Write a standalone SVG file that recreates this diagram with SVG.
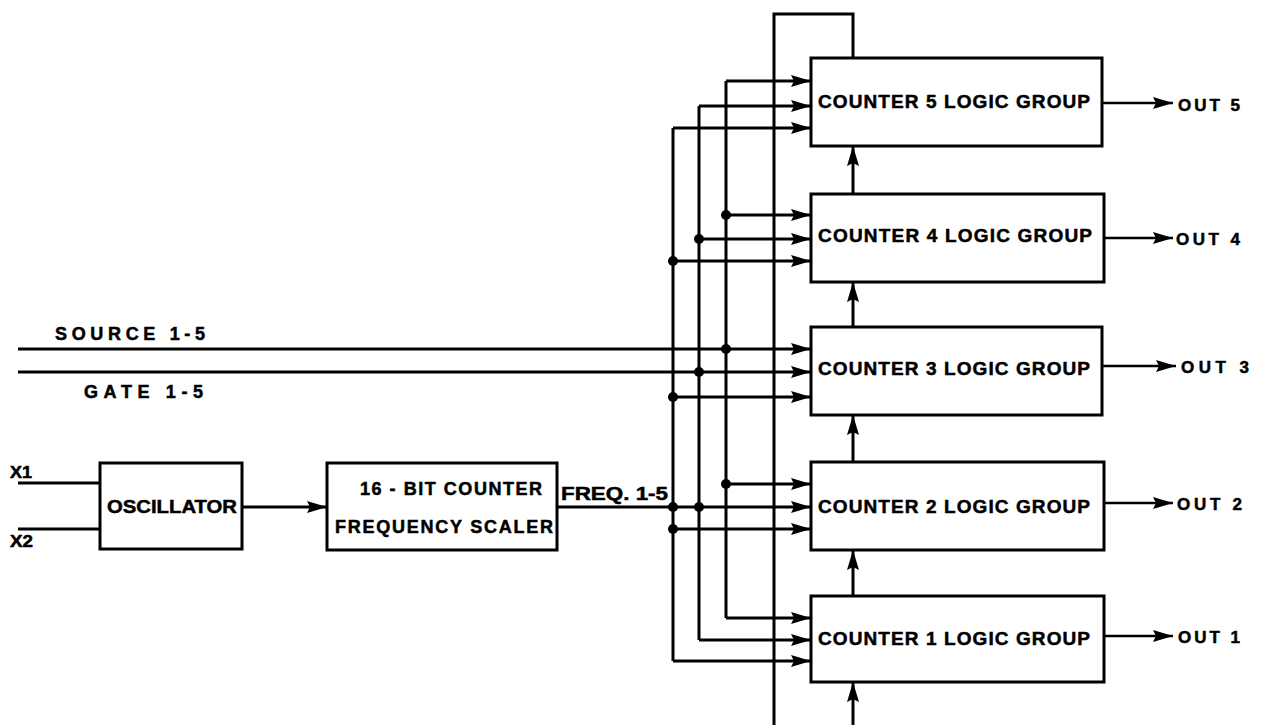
<svg xmlns="http://www.w3.org/2000/svg" width="1266" height="725" viewBox="0 0 1266 725">
<style>
.box{fill:#fff;stroke:#000;stroke-width:3}
.ln{fill:none;stroke:#000;stroke-width:3}
.ln2{fill:none;stroke:#000;stroke-width:2.4}
.t{font-family:"Liberation Sans",Arial,sans-serif;font-weight:bold;fill:#000;stroke:#000;stroke-width:0.5}
.dot{fill:#000}
</style>
<defs>
<marker id="ah" markerUnits="userSpaceOnUse" markerWidth="21" markerHeight="13" refX="20" refY="6.5" orient="auto">
<path d="M0,0.5 L20,6.5 L0,12.5 L3,6.5 z" fill="#000"/>
</marker>
</defs>
<rect width="1266" height="725" fill="#fff"/>
<g id="connectors">
<path class="ln" d="M18,483 H100"/>
<path class="ln" d="M18,529 H100"/>
<path class="ln" d="M242,507 H327" marker-end="url(#ah)"/>
<path class="ln" d="M557,507 H811" marker-end="url(#ah)"/>
<path class="ln" d="M18,349 H811" marker-end="url(#ah)"/>
<path class="ln" d="M18,372 H811" marker-end="url(#ah)"/>
<path class="ln" d="M726,81 V618"/>
<path class="ln" d="M699,106 V640"/>
<path class="ln" d="M673,128 V661"/>
<path class="ln" d="M726,81 H811" marker-end="url(#ah)"/>
<path class="ln" d="M699,106 H811" marker-end="url(#ah)"/>
<path class="ln" d="M673,128 H811" marker-end="url(#ah)"/>
<path class="ln" d="M726,215 H811" marker-end="url(#ah)"/>
<path class="ln" d="M699,239 H811" marker-end="url(#ah)"/>
<path class="ln" d="M673,261 H811" marker-end="url(#ah)"/>
<path class="ln" d="M673,397 H811" marker-end="url(#ah)"/>
<path class="ln" d="M726,484 H811" marker-end="url(#ah)"/>
<path class="ln" d="M673,529 H811" marker-end="url(#ah)"/>
<path class="ln" d="M726,618 H811" marker-end="url(#ah)"/>
<path class="ln" d="M699,640 H811" marker-end="url(#ah)"/>
<path class="ln" d="M673,661 H811" marker-end="url(#ah)"/>
<path class="ln" d="M853,58 V14 H774 V725"/>
<path class="ln" d="M853,193 V146" marker-end="url(#ah)"/>
<path class="ln" d="M853,327 V282" marker-end="url(#ah)"/>
<path class="ln" d="M853,462 V415" marker-end="url(#ah)"/>
<path class="ln" d="M853,596 V550" marker-end="url(#ah)"/>
<path class="ln" d="M853,725 V682" marker-end="url(#ah)"/>
<path class="ln2" d="M1102,103 H1173" marker-end="url(#ah)"/>
<path class="ln2" d="M1104,238 H1173" marker-end="url(#ah)"/>
<path class="ln2" d="M1102,366 H1176" marker-end="url(#ah)"/>
<path class="ln2" d="M1104,503 H1173" marker-end="url(#ah)"/>
<path class="ln2" d="M1104,636 H1173" marker-end="url(#ah)"/>
<circle class="dot" cx="726" cy="215" r="5"/>
<circle class="dot" cx="699" cy="239" r="5"/>
<circle class="dot" cx="673" cy="261" r="5"/>
<circle class="dot" cx="726" cy="349" r="5"/>
<circle class="dot" cx="699" cy="372" r="5"/>
<circle class="dot" cx="673" cy="397" r="5"/>
<circle class="dot" cx="726" cy="484" r="5"/>
<circle class="dot" cx="673" cy="507" r="5"/>
<circle class="dot" cx="699" cy="507" r="5"/>
<circle class="dot" cx="673" cy="529" r="5"/>
</g>
<g id="labels">
<text class="t" x="55" y="340" font-size="18" textLength="150" lengthAdjust="spacing">SOURCE 1-5</text>
<text class="t" x="84" y="398" font-size="18" textLength="119" lengthAdjust="spacing">GATE 1-5</text>
<text class="t" x="10" y="478" font-size="16" textLength="22" lengthAdjust="spacingAndGlyphs">X1</text>
<text class="t" x="10" y="547" font-size="16" textLength="23" lengthAdjust="spacingAndGlyphs">X2</text>
<text class="t" x="561" y="500" font-size="19" textLength="107" lengthAdjust="spacingAndGlyphs">FREQ. 1-5</text>
<text class="t" x="1178" y="111" font-size="17" textLength="62" lengthAdjust="spacing">OUT 5</text>
<text class="t" x="1176" y="245" font-size="17" textLength="64" lengthAdjust="spacing">OUT 4</text>
<text class="t" x="1181" y="373" font-size="17" textLength="68" lengthAdjust="spacing">OUT 3</text>
<text class="t" x="1177" y="510" font-size="17" textLength="65" lengthAdjust="spacing">OUT 2</text>
<text class="t" x="1178" y="643" font-size="17" textLength="62" lengthAdjust="spacing">OUT 1</text>
</g>
<g id="oscillator">
<rect class="box" x="100" y="463" width="142" height="86"/>
<text class="t" x="107" y="513" font-size="19" textLength="130" lengthAdjust="spacingAndGlyphs">OSCILLATOR</text>
</g>
<g id="scaler">
<rect class="box" x="327" y="463" width="230" height="87"/>
<text class="t" x="360" y="495" font-size="18" textLength="182" lengthAdjust="spacing">16 - BIT COUNTER</text>
<text class="t" x="335" y="533" font-size="18" textLength="218" lengthAdjust="spacing">FREQUENCY SCALER</text>
</g>
<g id="counter5">
<rect class="box" x="811" y="58" width="291" height="88"/>
<text class="t" x="818" y="108" font-size="19" textLength="272" lengthAdjust="spacing">COUNTER 5 LOGIC GROUP</text>
</g>
<g id="counter4">
<rect class="box" x="811" y="194" width="293" height="88"/>
<text class="t" x="818" y="242" font-size="19" textLength="274" lengthAdjust="spacing">COUNTER 4 LOGIC GROUP</text>
</g>
<g id="counter3">
<rect class="box" x="811" y="327" width="291" height="88"/>
<text class="t" x="818" y="375" font-size="19" textLength="272" lengthAdjust="spacing">COUNTER 3 LOGIC GROUP</text>
</g>
<g id="counter2">
<rect class="box" x="811" y="462" width="293" height="88"/>
<text class="t" x="818" y="513" font-size="19" textLength="272" lengthAdjust="spacing">COUNTER 2 LOGIC GROUP</text>
</g>
<g id="counter1">
<rect class="box" x="811" y="596" width="293" height="86"/>
<text class="t" x="818" y="645" font-size="19" textLength="272" lengthAdjust="spacing">COUNTER 1 LOGIC GROUP</text>
</g>
</svg>
